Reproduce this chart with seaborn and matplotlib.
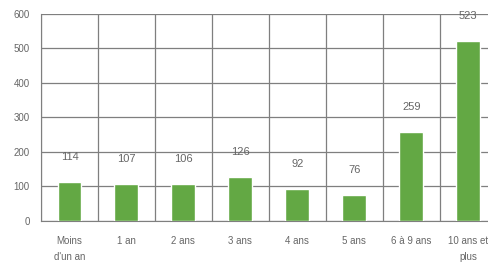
import numpy as np
import pandas as pd
import matplotlib.pyplot as plt
import seaborn as sns

# data
categories = ["Moins\nd'un an", "1 an", "2 ans", "3 ans", "4 ans", "5 ans", "6 à 9 ans", "10 ans et\nplus"]
values = [114, 107, 106, 126, 92, 76, 259, 523]
yticks = [0, 100, 200, 300, 400, 500, 600]

df = pd.DataFrame({"categorie": categories, "nombre": values})

sns.set_style("white")
plt.rcParams['font.family'] = ['Liberation Sans', 'DejaVu Sans']

fig = plt.figure(figsize=(4.88, 2.63), dpi=100)
ax = fig.add_axes([0.084, 0.16, 0.934, 0.787])

sns.barplot(data=df, x="categorie", y="nombre", color="#63a844", saturation=1,
            width=0.42, ax=ax, zorder=3)

ax.set_ylim(0, 600)
ax.set_xlim(-0.5, len(categories) - 0.5)
ax.set_yticks(yticks)
ax.set_xlabel("")
ax.set_ylabel("")

# horizontal grid + vertical separators between categories
ax.set_xticks(np.arange(len(categories) + 1) - 0.5, minor=True)
ax.grid(axis="y", color="#7f7f7f", linewidth=0.9, zorder=0)
ax.grid(axis="x", which="minor", color="#7f7f7f", linewidth=0.9, zorder=0)
ax.set_axisbelow(True)

for s in ["top", "right"]:
    ax.spines[s].set_visible(False)
ax.spines["left"].set_color("#7f7f7f")
ax.spines["bottom"].set_color("#7f7f7f")

ax.tick_params(axis="both", which="both", length=0, labelsize=7, colors="#666666")
ax.tick_params(axis="x", pad=11)
ax.tick_params(axis="y", pad=8)
for lab in ax.get_xticklabels():
    lab.set_linespacing(1.75)

for i, v in enumerate(values):
    ax.annotate(str(v), (i, v), xytext=(0, 18), textcoords="offset points",
                ha="center", va="center", fontsize=8, color="#666666")

fig.savefig("out.png", dpi=100)
